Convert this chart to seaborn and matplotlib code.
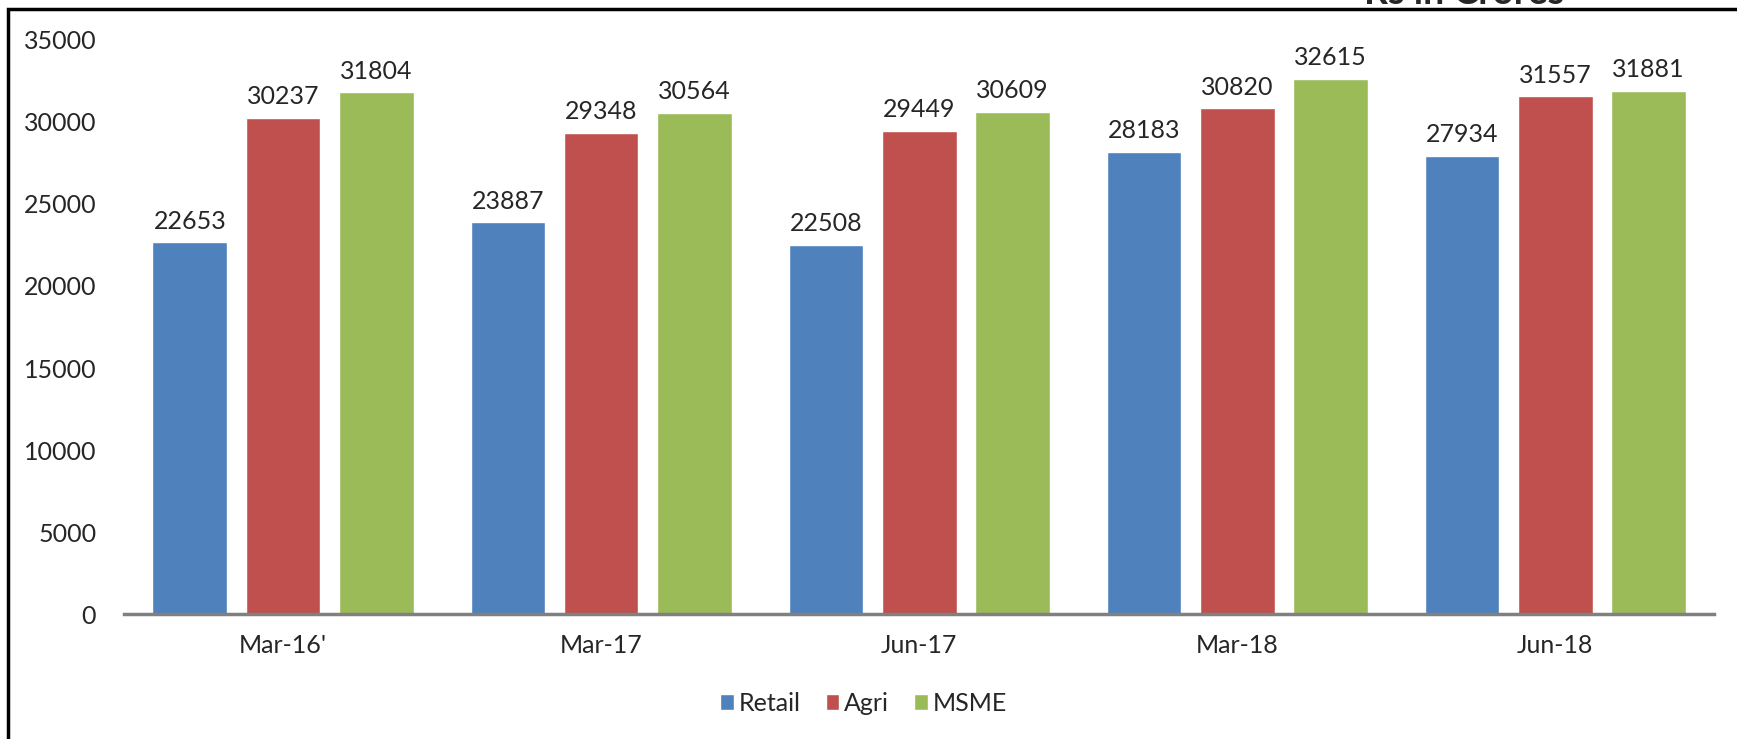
import pandas as pd
import matplotlib.pyplot as plt
import seaborn as sns
from matplotlib.patches import Rectangle

# ------------------------------------------------------------
# Data
# ------------------------------------------------------------
periods = ["Mar-16'", "Mar-17", "Jun-17", "Mar-18", "Jun-18"]
segments = ["Retail", "Agri", "MSME"]
retail = [22653, 23887, 22508, 28183, 27934]
agri = [30237, 29348, 29449, 30820, 31557]
msme = [31804, 30564, 30609, 32615, 31881]

colors = ["#4F81BD", "#C0504D", "#9BBB59"]

df = pd.DataFrame({
    "period": periods * 3,
    "segment": [s for s in segments for _ in periods],
    "value": retail + agri + msme,
})

sns.set_style("white")
plt.rcParams['font.family'] = ['Lato', 'DejaVu Sans']

fig = plt.figure(figsize=(17.37, 7.39), dpi=100)
ax = fig.add_axes([0.0714, 0.169, 0.9156, 0.777])

sns.barplot(
    data=df, x="period", y="value", hue="segment",
    order=periods, hue_order=segments, palette=colors,
    width=0.88, gap=0.2, saturation=1, ax=ax, errorbar=None
)

for c in ax.containers:
    ax.bar_label(c, fmt="%d", padding=7, fontsize=18)

ax.set_xlim(-0.5, 4.5)
ax.set_ylim(0, 35000)
ax.set_yticks(range(0, 35001, 5000))
ax.set_xlabel("")
ax.set_ylabel("")
ax.tick_params(axis="both", length=0, labelsize=18)
ax.tick_params(axis="x", pad=14)
ax.tick_params(axis="y", pad=20)
for side in ["top", "right", "left"]:
    ax.spines[side].set_visible(False)
ax.spines["bottom"].set_color("#808080")
ax.spines["bottom"].set_linewidth(2.5)

ax.legend(
    loc="center", bbox_to_anchor=(0.465, -0.155), ncol=3, frameon=False,
    fontsize=18, handlelength=0.55, handleheight=0.6, handletextpad=0.2,
    columnspacing=1.0
)

# outer frame, cut off at the right and bottom like the source slide
fig.patches.append(Rectangle(
    (8 / 1737, -0.1), 1.2, 1.1 - 9 / 739,
    transform=fig.transFigure, fill=False, edgecolor="black", linewidth=2.5
))
fig.text(0.843, 1 - 4 / 739, "Rs in Crores", ha="center", va="baseline",
         fontsize=27, fontweight="bold")

plt.savefig("out.png", dpi=100)
plt.close()
